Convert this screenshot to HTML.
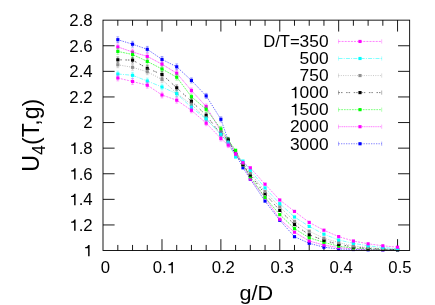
<!DOCTYPE html>
<html><head><meta charset="utf-8"><title>U4(T,g) vs g/D</title>
<style>
html,body{margin:0;padding:0;background:#fff;}
body{width:435px;height:305px;overflow:hidden;position:relative;}
svg text{font-family:"Liberation Sans",sans-serif;fill:#000;}
</style></head><body>
<svg width="435" height="305" viewBox="0 0 435 305" style="position:absolute;left:0;top:0;will-change:transform">
<rect width="435" height="305" fill="#fff"/>
<path d="M117.82,250.55v-5.6M117.82,20.15v5.6M132.54,250.55v-5.6M132.54,20.15v5.6M147.27,250.55v-5.6M147.27,20.15v5.6M161.99,250.55v-11.4M161.99,20.15v11.4M176.71,250.55v-5.6M176.71,20.15v5.6M191.44,250.55v-5.6M191.44,20.15v5.6M206.16,250.55v-5.6M206.16,20.15v5.6M220.88,250.55v-11.4M220.88,20.15v11.4M235.60,250.55v-5.6M235.60,20.15v5.6M250.32,250.55v-5.6M250.32,20.15v5.6M265.05,250.55v-5.6M265.05,20.15v5.6M279.77,250.55v-11.4M279.77,20.15v11.4M294.49,250.55v-5.6M294.49,20.15v5.6M309.22,250.55v-5.6M309.22,20.15v5.6M323.94,250.55v-5.6M323.94,20.15v5.6M338.66,250.55v-11.4M338.66,20.15v11.4M353.38,250.55v-5.6M353.38,20.15v5.6M368.11,250.55v-5.6M368.11,20.15v5.6M382.83,250.55v-5.6M382.83,20.15v5.6M397.55,250.55v-11.4M397.55,20.15v11.4M103.0,224.95h11.6M409.65,224.95h-11.6M103.0,199.35h11.6M409.65,199.35h-11.6M103.0,173.75h11.6M409.65,173.75h-11.6M103.0,148.15h11.6M409.65,148.15h-11.6M103.0,122.55h11.6M409.65,122.55h-11.6M103.0,96.95h11.6M409.65,96.95h-11.6M103.0,71.35h11.6M409.65,71.35h-11.6M103.0,45.75h11.6M409.65,45.75h-11.6" stroke="#000" stroke-width="0.9" fill="none"/>
<path d="M117.8,39.7 L132.5,44.2 L147.3,49.3 L162.0,59.4 L176.7,66.8 L191.4,80.4 L206.2,95.9 L220.9,119.3 L228.2,140.3 L235.6,154.0 L243.0,167.8 L250.3,179.2 L265.0,201.1 L279.8,220.3 L294.5,236.7 L309.2,243.3 L323.9,247.2 L338.7,249.0 L353.4,249.5 L368.1,249.8 L382.8,249.9 L397.5,250.0" fill="none" stroke="#0000ff" stroke-width="0.6" stroke-dasharray="1.3,1.2"/>
<path d="M117.8,36.8V42.6M116.4,36.8h2.8M116.4,42.6h2.8" stroke="#0000ff" stroke-width="0.45" stroke-opacity="0.75" fill="none"/>
<path d="M132.5,41.3V47.1M131.1,41.3h2.8M131.1,47.1h2.8" stroke="#0000ff" stroke-width="0.45" stroke-opacity="0.75" fill="none"/>
<path d="M147.3,46.4V52.2M145.9,46.4h2.8M145.9,52.2h2.8" stroke="#0000ff" stroke-width="0.45" stroke-opacity="0.75" fill="none"/>
<path d="M162.0,56.5V62.3M160.6,56.5h2.8M160.6,62.3h2.8" stroke="#0000ff" stroke-width="0.45" stroke-opacity="0.75" fill="none"/>
<path d="M176.7,63.9V69.7M175.3,63.9h2.8M175.3,69.7h2.8" stroke="#0000ff" stroke-width="0.45" stroke-opacity="0.75" fill="none"/>
<path d="M191.4,77.9V82.9M190.0,77.9h2.8M190.0,82.9h2.8" stroke="#0000ff" stroke-width="0.45" stroke-opacity="0.75" fill="none"/>
<path d="M206.2,93.4V98.4M204.8,93.4h2.8M204.8,98.4h2.8" stroke="#0000ff" stroke-width="0.45" stroke-opacity="0.75" fill="none"/>
<path d="M220.9,116.8V121.8M219.5,116.8h2.8M219.5,121.8h2.8" stroke="#0000ff" stroke-width="0.45" stroke-opacity="0.75" fill="none"/>
<path d="M228.2,137.8V142.8M226.8,137.8h2.8M226.8,142.8h2.8" stroke="#0000ff" stroke-width="0.45" stroke-opacity="0.75" fill="none"/>
<rect x="116.25" y="38.12" width="3.15" height="3.15" fill="#0000ff"/>
<rect x="130.97" y="42.62" width="3.15" height="3.15" fill="#0000ff"/>
<rect x="145.69" y="47.72" width="3.15" height="3.15" fill="#0000ff"/>
<rect x="160.42" y="57.82" width="3.15" height="3.15" fill="#0000ff"/>
<rect x="175.14" y="65.22" width="3.15" height="3.15" fill="#0000ff"/>
<rect x="189.86" y="78.83" width="3.15" height="3.15" fill="#0000ff"/>
<rect x="204.58" y="94.33" width="3.15" height="3.15" fill="#0000ff"/>
<rect x="219.31" y="117.72" width="3.15" height="3.15" fill="#0000ff"/>
<rect x="226.67" y="138.73" width="3.15" height="3.15" fill="#0000ff"/>
<rect x="234.03" y="152.43" width="3.15" height="3.15" fill="#0000ff"/>
<rect x="241.39" y="166.23" width="3.15" height="3.15" fill="#0000ff"/>
<rect x="248.75" y="177.62" width="3.15" height="3.15" fill="#0000ff"/>
<rect x="263.47" y="199.53" width="3.15" height="3.15" fill="#0000ff"/>
<rect x="278.19" y="218.73" width="3.15" height="3.15" fill="#0000ff"/>
<rect x="292.92" y="235.12" width="3.15" height="3.15" fill="#0000ff"/>
<rect x="307.64" y="241.73" width="3.15" height="3.15" fill="#0000ff"/>
<rect x="322.36" y="245.62" width="3.15" height="3.15" fill="#0000ff"/>
<rect x="337.08" y="247.43" width="3.15" height="3.15" fill="#0000ff"/>
<rect x="351.81" y="247.93" width="3.15" height="3.15" fill="#0000ff"/>
<rect x="366.53" y="248.23" width="3.15" height="3.15" fill="#0000ff"/>
<rect x="381.25" y="248.33" width="3.15" height="3.15" fill="#0000ff"/>
<rect x="395.97" y="248.43" width="3.15" height="3.15" fill="#0000ff"/>
<path d="M117.8,46.9 L132.5,52.0 L147.3,56.4 L162.0,64.2 L176.7,73.2 L191.4,90.5 L206.2,106.5 L220.9,131.2 L228.2,141.0 L235.6,152.0 L243.0,164.5 L250.3,178.9 L265.0,197.6 L279.8,219.3 L294.5,232.2 L309.2,241.0 L323.9,245.1 L338.7,247.6 L353.4,248.8 L368.1,249.4 L382.8,249.7 L397.5,249.9" fill="none" stroke="#ff00ff" stroke-width="0.6" stroke-dasharray="1.2,0.6"/>
<path d="M117.8,44.0V49.8M116.4,44.0h2.8M116.4,49.8h2.8" stroke="#ff00ff" stroke-width="0.45" stroke-opacity="0.75" fill="none"/>
<path d="M132.5,49.1V54.9M131.1,49.1h2.8M131.1,54.9h2.8" stroke="#ff00ff" stroke-width="0.45" stroke-opacity="0.75" fill="none"/>
<path d="M147.3,53.5V59.3M145.9,53.5h2.8M145.9,59.3h2.8" stroke="#ff00ff" stroke-width="0.45" stroke-opacity="0.75" fill="none"/>
<path d="M162.0,61.3V67.1M160.6,61.3h2.8M160.6,67.1h2.8" stroke="#ff00ff" stroke-width="0.45" stroke-opacity="0.75" fill="none"/>
<path d="M176.7,70.3V76.1M175.3,70.3h2.8M175.3,76.1h2.8" stroke="#ff00ff" stroke-width="0.45" stroke-opacity="0.75" fill="none"/>
<path d="M191.4,88.0V93.0M190.0,88.0h2.8M190.0,93.0h2.8" stroke="#ff00ff" stroke-width="0.45" stroke-opacity="0.75" fill="none"/>
<path d="M206.2,104.0V109.0M204.8,104.0h2.8M204.8,109.0h2.8" stroke="#ff00ff" stroke-width="0.45" stroke-opacity="0.75" fill="none"/>
<path d="M220.9,128.7V133.7M219.5,128.7h2.8M219.5,133.7h2.8" stroke="#ff00ff" stroke-width="0.45" stroke-opacity="0.75" fill="none"/>
<path d="M228.2,138.5V143.5M226.8,138.5h2.8M226.8,143.5h2.8" stroke="#ff00ff" stroke-width="0.45" stroke-opacity="0.75" fill="none"/>
<rect x="116.25" y="45.32" width="3.15" height="3.15" fill="#ff00ff"/>
<rect x="130.97" y="50.42" width="3.15" height="3.15" fill="#ff00ff"/>
<rect x="145.69" y="54.82" width="3.15" height="3.15" fill="#ff00ff"/>
<rect x="160.42" y="62.62" width="3.15" height="3.15" fill="#ff00ff"/>
<rect x="175.14" y="71.62" width="3.15" height="3.15" fill="#ff00ff"/>
<rect x="189.86" y="88.92" width="3.15" height="3.15" fill="#ff00ff"/>
<rect x="204.58" y="104.92" width="3.15" height="3.15" fill="#ff00ff"/>
<rect x="219.31" y="129.62" width="3.15" height="3.15" fill="#ff00ff"/>
<rect x="226.67" y="139.43" width="3.15" height="3.15" fill="#ff00ff"/>
<rect x="234.03" y="150.43" width="3.15" height="3.15" fill="#ff00ff"/>
<rect x="241.39" y="162.93" width="3.15" height="3.15" fill="#ff00ff"/>
<rect x="248.75" y="177.33" width="3.15" height="3.15" fill="#ff00ff"/>
<rect x="263.47" y="196.03" width="3.15" height="3.15" fill="#ff00ff"/>
<rect x="278.19" y="217.73" width="3.15" height="3.15" fill="#ff00ff"/>
<rect x="292.92" y="230.62" width="3.15" height="3.15" fill="#ff00ff"/>
<rect x="307.64" y="239.43" width="3.15" height="3.15" fill="#ff00ff"/>
<rect x="322.36" y="243.53" width="3.15" height="3.15" fill="#ff00ff"/>
<rect x="337.08" y="246.03" width="3.15" height="3.15" fill="#ff00ff"/>
<rect x="351.81" y="247.23" width="3.15" height="3.15" fill="#ff00ff"/>
<rect x="366.53" y="247.83" width="3.15" height="3.15" fill="#ff00ff"/>
<rect x="381.25" y="248.12" width="3.15" height="3.15" fill="#ff00ff"/>
<rect x="395.97" y="248.33" width="3.15" height="3.15" fill="#ff00ff"/>
<path d="M117.8,51.4 L132.5,54.5 L147.3,61.4 L162.0,69.0 L176.7,77.2 L191.4,96.7 L206.2,109.3 L220.9,128.9 L228.2,139.8 L235.6,150.3 L243.0,164.8 L250.3,176.8 L265.0,197.4 L279.8,214.6 L294.5,228.6 L309.2,237.8 L323.9,242.3 L338.7,246.2 L353.4,248.1 L368.1,249.0 L382.8,249.5 L397.5,249.8" fill="none" stroke="#00ff00" stroke-width="0.6" stroke-dasharray="1.8,0.9"/>
<path d="M117.8,48.5V54.3M116.4,48.5h2.8M116.4,54.3h2.8" stroke="#00ff00" stroke-width="0.45" stroke-opacity="0.75" fill="none"/>
<path d="M132.5,51.6V57.4M131.1,51.6h2.8M131.1,57.4h2.8" stroke="#00ff00" stroke-width="0.45" stroke-opacity="0.75" fill="none"/>
<path d="M147.3,58.5V64.3M145.9,58.5h2.8M145.9,64.3h2.8" stroke="#00ff00" stroke-width="0.45" stroke-opacity="0.75" fill="none"/>
<path d="M162.0,66.1V71.9M160.6,66.1h2.8M160.6,71.9h2.8" stroke="#00ff00" stroke-width="0.45" stroke-opacity="0.75" fill="none"/>
<path d="M176.7,74.3V80.1M175.3,74.3h2.8M175.3,80.1h2.8" stroke="#00ff00" stroke-width="0.45" stroke-opacity="0.75" fill="none"/>
<path d="M191.4,94.2V99.2M190.0,94.2h2.8M190.0,99.2h2.8" stroke="#00ff00" stroke-width="0.45" stroke-opacity="0.75" fill="none"/>
<path d="M206.2,106.8V111.8M204.8,106.8h2.8M204.8,111.8h2.8" stroke="#00ff00" stroke-width="0.45" stroke-opacity="0.75" fill="none"/>
<path d="M220.9,126.4V131.4M219.5,126.4h2.8M219.5,131.4h2.8" stroke="#00ff00" stroke-width="0.45" stroke-opacity="0.75" fill="none"/>
<path d="M228.2,137.3V142.3M226.8,137.3h2.8M226.8,142.3h2.8" stroke="#00ff00" stroke-width="0.45" stroke-opacity="0.75" fill="none"/>
<rect x="116.25" y="49.82" width="3.15" height="3.15" fill="#00ff00"/>
<rect x="130.97" y="52.92" width="3.15" height="3.15" fill="#00ff00"/>
<rect x="145.69" y="59.82" width="3.15" height="3.15" fill="#00ff00"/>
<rect x="160.42" y="67.42" width="3.15" height="3.15" fill="#00ff00"/>
<rect x="175.14" y="75.62" width="3.15" height="3.15" fill="#00ff00"/>
<rect x="189.86" y="95.12" width="3.15" height="3.15" fill="#00ff00"/>
<rect x="204.58" y="107.72" width="3.15" height="3.15" fill="#00ff00"/>
<rect x="219.31" y="127.33" width="3.15" height="3.15" fill="#00ff00"/>
<rect x="226.67" y="138.23" width="3.15" height="3.15" fill="#00ff00"/>
<rect x="234.03" y="148.73" width="3.15" height="3.15" fill="#00ff00"/>
<rect x="241.39" y="163.23" width="3.15" height="3.15" fill="#00ff00"/>
<rect x="248.75" y="175.23" width="3.15" height="3.15" fill="#00ff00"/>
<rect x="263.47" y="195.83" width="3.15" height="3.15" fill="#00ff00"/>
<rect x="278.19" y="213.03" width="3.15" height="3.15" fill="#00ff00"/>
<rect x="292.92" y="227.03" width="3.15" height="3.15" fill="#00ff00"/>
<rect x="307.64" y="236.23" width="3.15" height="3.15" fill="#00ff00"/>
<rect x="322.36" y="240.73" width="3.15" height="3.15" fill="#00ff00"/>
<rect x="337.08" y="244.62" width="3.15" height="3.15" fill="#00ff00"/>
<rect x="351.81" y="246.53" width="3.15" height="3.15" fill="#00ff00"/>
<rect x="366.53" y="247.43" width="3.15" height="3.15" fill="#00ff00"/>
<rect x="381.25" y="247.93" width="3.15" height="3.15" fill="#00ff00"/>
<rect x="395.97" y="248.23" width="3.15" height="3.15" fill="#00ff00"/>
<path d="M117.8,59.8 L132.5,60.1 L147.3,68.3 L162.0,74.5 L176.7,87.8 L191.4,101.3 L206.2,115.2 L220.9,134.3 L228.2,140.0 L235.6,154.5 L243.0,164.6 L250.3,175.1 L265.0,193.8 L279.8,210.4 L294.5,224.6 L309.2,234.8 L323.9,240.3 L338.7,244.4 L353.4,247.0 L368.1,248.3 L382.8,249.1 L397.5,249.6" fill="none" stroke="#000000" stroke-width="0.6" stroke-dasharray="1.5,1,1.5,3.6"/>
<path d="M117.8,56.9V62.7M116.4,56.9h2.8M116.4,62.7h2.8" stroke="#000000" stroke-width="0.45" stroke-opacity="0.75" fill="none"/>
<path d="M132.5,57.2V63.0M131.1,57.2h2.8M131.1,63.0h2.8" stroke="#000000" stroke-width="0.45" stroke-opacity="0.75" fill="none"/>
<path d="M147.3,65.4V71.2M145.9,65.4h2.8M145.9,71.2h2.8" stroke="#000000" stroke-width="0.45" stroke-opacity="0.75" fill="none"/>
<path d="M162.0,71.6V77.4M160.6,71.6h2.8M160.6,77.4h2.8" stroke="#000000" stroke-width="0.45" stroke-opacity="0.75" fill="none"/>
<path d="M176.7,84.9V90.7M175.3,84.9h2.8M175.3,90.7h2.8" stroke="#000000" stroke-width="0.45" stroke-opacity="0.75" fill="none"/>
<path d="M191.4,98.8V103.8M190.0,98.8h2.8M190.0,103.8h2.8" stroke="#000000" stroke-width="0.45" stroke-opacity="0.75" fill="none"/>
<path d="M206.2,112.7V117.7M204.8,112.7h2.8M204.8,117.7h2.8" stroke="#000000" stroke-width="0.45" stroke-opacity="0.75" fill="none"/>
<path d="M220.9,131.8V136.8M219.5,131.8h2.8M219.5,136.8h2.8" stroke="#000000" stroke-width="0.45" stroke-opacity="0.75" fill="none"/>
<path d="M228.2,137.5V142.5M226.8,137.5h2.8M226.8,142.5h2.8" stroke="#000000" stroke-width="0.45" stroke-opacity="0.75" fill="none"/>
<rect x="116.25" y="58.22" width="3.15" height="3.15" fill="#000000"/>
<rect x="130.97" y="58.52" width="3.15" height="3.15" fill="#000000"/>
<rect x="145.69" y="66.72" width="3.15" height="3.15" fill="#000000"/>
<rect x="160.42" y="72.92" width="3.15" height="3.15" fill="#000000"/>
<rect x="175.14" y="86.22" width="3.15" height="3.15" fill="#000000"/>
<rect x="189.86" y="99.72" width="3.15" height="3.15" fill="#000000"/>
<rect x="204.58" y="113.62" width="3.15" height="3.15" fill="#000000"/>
<rect x="219.31" y="132.73" width="3.15" height="3.15" fill="#000000"/>
<rect x="226.67" y="138.43" width="3.15" height="3.15" fill="#000000"/>
<rect x="234.03" y="152.93" width="3.15" height="3.15" fill="#000000"/>
<rect x="241.39" y="163.03" width="3.15" height="3.15" fill="#000000"/>
<rect x="248.75" y="173.53" width="3.15" height="3.15" fill="#000000"/>
<rect x="263.47" y="192.23" width="3.15" height="3.15" fill="#000000"/>
<rect x="278.19" y="208.83" width="3.15" height="3.15" fill="#000000"/>
<rect x="292.92" y="223.03" width="3.15" height="3.15" fill="#000000"/>
<rect x="307.64" y="233.23" width="3.15" height="3.15" fill="#000000"/>
<rect x="322.36" y="238.73" width="3.15" height="3.15" fill="#000000"/>
<rect x="337.08" y="242.83" width="3.15" height="3.15" fill="#000000"/>
<rect x="351.81" y="245.43" width="3.15" height="3.15" fill="#000000"/>
<rect x="366.53" y="246.73" width="3.15" height="3.15" fill="#000000"/>
<rect x="381.25" y="247.53" width="3.15" height="3.15" fill="#000000"/>
<rect x="395.97" y="248.03" width="3.15" height="3.15" fill="#000000"/>
<path d="M117.8,64.8 L132.5,67.3 L147.3,71.8 L162.0,79.5 L176.7,93.4 L191.4,104.5 L206.2,118.7 L220.9,134.4 L228.2,143.0 L235.6,155.5 L243.0,163.0 L250.3,173.0 L265.0,191.5 L279.8,206.9 L294.5,221.4 L309.2,231.2 L323.9,238.2 L338.7,242.6 L353.4,246.0 L368.1,247.6 L382.8,248.7 L397.5,249.4" fill="none" stroke="#909090" stroke-width="0.6" stroke-dasharray="1,1.3"/>
<path d="M117.8,61.9V67.7M116.4,61.9h2.8M116.4,67.7h2.8" stroke="#909090" stroke-width="0.45" stroke-opacity="0.75" fill="none"/>
<path d="M132.5,64.4V70.2M131.1,64.4h2.8M131.1,70.2h2.8" stroke="#909090" stroke-width="0.45" stroke-opacity="0.75" fill="none"/>
<path d="M147.3,68.9V74.7M145.9,68.9h2.8M145.9,74.7h2.8" stroke="#909090" stroke-width="0.45" stroke-opacity="0.75" fill="none"/>
<path d="M162.0,76.6V82.4M160.6,76.6h2.8M160.6,82.4h2.8" stroke="#909090" stroke-width="0.45" stroke-opacity="0.75" fill="none"/>
<path d="M176.7,90.5V96.3M175.3,90.5h2.8M175.3,96.3h2.8" stroke="#909090" stroke-width="0.45" stroke-opacity="0.75" fill="none"/>
<path d="M191.4,102.0V107.0M190.0,102.0h2.8M190.0,107.0h2.8" stroke="#909090" stroke-width="0.45" stroke-opacity="0.75" fill="none"/>
<path d="M206.2,116.2V121.2M204.8,116.2h2.8M204.8,121.2h2.8" stroke="#909090" stroke-width="0.45" stroke-opacity="0.75" fill="none"/>
<path d="M220.9,131.9V136.9M219.5,131.9h2.8M219.5,136.9h2.8" stroke="#909090" stroke-width="0.45" stroke-opacity="0.75" fill="none"/>
<path d="M228.2,140.5V145.5M226.8,140.5h2.8M226.8,145.5h2.8" stroke="#909090" stroke-width="0.45" stroke-opacity="0.75" fill="none"/>
<rect x="116.25" y="63.22" width="3.15" height="3.15" fill="#909090"/>
<rect x="130.97" y="65.72" width="3.15" height="3.15" fill="#909090"/>
<rect x="145.69" y="70.22" width="3.15" height="3.15" fill="#909090"/>
<rect x="160.42" y="77.92" width="3.15" height="3.15" fill="#909090"/>
<rect x="175.14" y="91.83" width="3.15" height="3.15" fill="#909090"/>
<rect x="189.86" y="102.92" width="3.15" height="3.15" fill="#909090"/>
<rect x="204.58" y="117.12" width="3.15" height="3.15" fill="#909090"/>
<rect x="219.31" y="132.83" width="3.15" height="3.15" fill="#909090"/>
<rect x="226.67" y="141.43" width="3.15" height="3.15" fill="#909090"/>
<rect x="234.03" y="153.93" width="3.15" height="3.15" fill="#909090"/>
<rect x="241.39" y="161.43" width="3.15" height="3.15" fill="#909090"/>
<rect x="248.75" y="171.43" width="3.15" height="3.15" fill="#909090"/>
<rect x="263.47" y="189.93" width="3.15" height="3.15" fill="#909090"/>
<rect x="278.19" y="205.33" width="3.15" height="3.15" fill="#909090"/>
<rect x="292.92" y="219.83" width="3.15" height="3.15" fill="#909090"/>
<rect x="307.64" y="229.62" width="3.15" height="3.15" fill="#909090"/>
<rect x="322.36" y="236.62" width="3.15" height="3.15" fill="#909090"/>
<rect x="337.08" y="241.03" width="3.15" height="3.15" fill="#909090"/>
<rect x="351.81" y="244.43" width="3.15" height="3.15" fill="#909090"/>
<rect x="366.53" y="246.03" width="3.15" height="3.15" fill="#909090"/>
<rect x="381.25" y="247.12" width="3.15" height="3.15" fill="#909090"/>
<rect x="395.97" y="247.83" width="3.15" height="3.15" fill="#909090"/>
<path d="M117.8,74.0 L132.5,75.3 L147.3,81.0 L162.0,87.0 L176.7,93.7 L191.4,107.4 L206.2,119.0 L220.9,134.4 L228.2,142.8 L235.6,157.0 L243.0,161.1 L250.3,170.3 L265.0,187.9 L279.8,203.7 L294.5,217.0 L309.2,226.4 L323.9,234.2 L338.7,240.0 L353.4,243.4 L368.1,245.8 L382.8,247.5 L397.5,248.8" fill="none" stroke="#00ffff" stroke-width="0.5" stroke-dasharray="4,1.2,1,1.2"/>
<path d="M117.8,71.1V76.9M116.4,71.1h2.8M116.4,76.9h2.8" stroke="#00ffff" stroke-width="0.45" stroke-opacity="0.75" fill="none"/>
<path d="M132.5,72.4V78.2M131.1,72.4h2.8M131.1,78.2h2.8" stroke="#00ffff" stroke-width="0.45" stroke-opacity="0.75" fill="none"/>
<path d="M147.3,78.1V83.9M145.9,78.1h2.8M145.9,83.9h2.8" stroke="#00ffff" stroke-width="0.45" stroke-opacity="0.75" fill="none"/>
<path d="M162.0,84.1V89.9M160.6,84.1h2.8M160.6,89.9h2.8" stroke="#00ffff" stroke-width="0.45" stroke-opacity="0.75" fill="none"/>
<path d="M176.7,90.8V96.6M175.3,90.8h2.8M175.3,96.6h2.8" stroke="#00ffff" stroke-width="0.45" stroke-opacity="0.75" fill="none"/>
<path d="M191.4,104.9V109.9M190.0,104.9h2.8M190.0,109.9h2.8" stroke="#00ffff" stroke-width="0.45" stroke-opacity="0.75" fill="none"/>
<path d="M206.2,116.5V121.5M204.8,116.5h2.8M204.8,121.5h2.8" stroke="#00ffff" stroke-width="0.45" stroke-opacity="0.75" fill="none"/>
<path d="M220.9,131.9V136.9M219.5,131.9h2.8M219.5,136.9h2.8" stroke="#00ffff" stroke-width="0.45" stroke-opacity="0.75" fill="none"/>
<path d="M228.2,140.3V145.3M226.8,140.3h2.8M226.8,145.3h2.8" stroke="#00ffff" stroke-width="0.45" stroke-opacity="0.75" fill="none"/>
<rect x="116.25" y="72.42" width="3.15" height="3.15" fill="#00ffff"/>
<rect x="130.97" y="73.72" width="3.15" height="3.15" fill="#00ffff"/>
<rect x="145.69" y="79.42" width="3.15" height="3.15" fill="#00ffff"/>
<rect x="160.42" y="85.42" width="3.15" height="3.15" fill="#00ffff"/>
<rect x="175.14" y="92.12" width="3.15" height="3.15" fill="#00ffff"/>
<rect x="189.86" y="105.83" width="3.15" height="3.15" fill="#00ffff"/>
<rect x="204.58" y="117.42" width="3.15" height="3.15" fill="#00ffff"/>
<rect x="219.31" y="132.83" width="3.15" height="3.15" fill="#00ffff"/>
<rect x="226.67" y="141.23" width="3.15" height="3.15" fill="#00ffff"/>
<rect x="234.03" y="155.43" width="3.15" height="3.15" fill="#00ffff"/>
<rect x="241.39" y="159.53" width="3.15" height="3.15" fill="#00ffff"/>
<rect x="248.75" y="168.73" width="3.15" height="3.15" fill="#00ffff"/>
<rect x="263.47" y="186.33" width="3.15" height="3.15" fill="#00ffff"/>
<rect x="278.19" y="202.12" width="3.15" height="3.15" fill="#00ffff"/>
<rect x="292.92" y="215.43" width="3.15" height="3.15" fill="#00ffff"/>
<rect x="307.64" y="224.83" width="3.15" height="3.15" fill="#00ffff"/>
<rect x="322.36" y="232.62" width="3.15" height="3.15" fill="#00ffff"/>
<rect x="337.08" y="238.43" width="3.15" height="3.15" fill="#00ffff"/>
<rect x="351.81" y="241.83" width="3.15" height="3.15" fill="#00ffff"/>
<rect x="366.53" y="244.23" width="3.15" height="3.15" fill="#00ffff"/>
<rect x="381.25" y="245.93" width="3.15" height="3.15" fill="#00ffff"/>
<rect x="395.97" y="247.23" width="3.15" height="3.15" fill="#00ffff"/>
<path d="M117.8,78.0 L132.5,81.5 L147.3,85.2 L162.0,95.0 L176.7,100.2 L191.4,110.3 L206.2,123.2 L220.9,138.5 L228.2,145.1 L235.6,154.2 L243.0,162.7 L250.3,167.8 L265.0,184.2 L279.8,200.0 L294.5,211.4 L309.2,222.4 L323.9,230.2 L338.7,236.6 L353.4,241.0 L368.1,243.8 L382.8,245.8 L397.5,247.2" fill="none" stroke="#ff00ff" stroke-width="0.5" stroke-dasharray="2,1.1"/>
<path d="M117.8,75.1V80.9M116.4,75.1h2.8M116.4,80.9h2.8" stroke="#ff00ff" stroke-width="0.45" stroke-opacity="0.75" fill="none"/>
<path d="M132.5,78.6V84.4M131.1,78.6h2.8M131.1,84.4h2.8" stroke="#ff00ff" stroke-width="0.45" stroke-opacity="0.75" fill="none"/>
<path d="M147.3,82.3V88.1M145.9,82.3h2.8M145.9,88.1h2.8" stroke="#ff00ff" stroke-width="0.45" stroke-opacity="0.75" fill="none"/>
<path d="M162.0,92.1V97.9M160.6,92.1h2.8M160.6,97.9h2.8" stroke="#ff00ff" stroke-width="0.45" stroke-opacity="0.75" fill="none"/>
<path d="M176.7,97.3V103.1M175.3,97.3h2.8M175.3,103.1h2.8" stroke="#ff00ff" stroke-width="0.45" stroke-opacity="0.75" fill="none"/>
<path d="M191.4,107.8V112.8M190.0,107.8h2.8M190.0,112.8h2.8" stroke="#ff00ff" stroke-width="0.45" stroke-opacity="0.75" fill="none"/>
<path d="M206.2,120.7V125.7M204.8,120.7h2.8M204.8,125.7h2.8" stroke="#ff00ff" stroke-width="0.45" stroke-opacity="0.75" fill="none"/>
<path d="M220.9,136.0V141.0M219.5,136.0h2.8M219.5,141.0h2.8" stroke="#ff00ff" stroke-width="0.45" stroke-opacity="0.75" fill="none"/>
<path d="M228.2,142.6V147.6M226.8,142.6h2.8M226.8,147.6h2.8" stroke="#ff00ff" stroke-width="0.45" stroke-opacity="0.75" fill="none"/>
<rect x="116.25" y="76.42" width="3.15" height="3.15" fill="#ff00ff"/>
<rect x="130.97" y="79.92" width="3.15" height="3.15" fill="#ff00ff"/>
<rect x="145.69" y="83.62" width="3.15" height="3.15" fill="#ff00ff"/>
<rect x="160.42" y="93.42" width="3.15" height="3.15" fill="#ff00ff"/>
<rect x="175.14" y="98.62" width="3.15" height="3.15" fill="#ff00ff"/>
<rect x="189.86" y="108.72" width="3.15" height="3.15" fill="#ff00ff"/>
<rect x="204.58" y="121.62" width="3.15" height="3.15" fill="#ff00ff"/>
<rect x="219.31" y="136.93" width="3.15" height="3.15" fill="#ff00ff"/>
<rect x="226.67" y="143.53" width="3.15" height="3.15" fill="#ff00ff"/>
<rect x="234.03" y="152.62" width="3.15" height="3.15" fill="#ff00ff"/>
<rect x="241.39" y="161.12" width="3.15" height="3.15" fill="#ff00ff"/>
<rect x="248.75" y="166.23" width="3.15" height="3.15" fill="#ff00ff"/>
<rect x="263.47" y="182.62" width="3.15" height="3.15" fill="#ff00ff"/>
<rect x="278.19" y="198.43" width="3.15" height="3.15" fill="#ff00ff"/>
<rect x="292.92" y="209.83" width="3.15" height="3.15" fill="#ff00ff"/>
<rect x="307.64" y="220.83" width="3.15" height="3.15" fill="#ff00ff"/>
<rect x="322.36" y="228.62" width="3.15" height="3.15" fill="#ff00ff"/>
<rect x="337.08" y="235.03" width="3.15" height="3.15" fill="#ff00ff"/>
<rect x="351.81" y="239.43" width="3.15" height="3.15" fill="#ff00ff"/>
<rect x="366.53" y="242.23" width="3.15" height="3.15" fill="#ff00ff"/>
<rect x="381.25" y="244.23" width="3.15" height="3.15" fill="#ff00ff"/>
<rect x="395.97" y="245.62" width="3.15" height="3.15" fill="#ff00ff"/>
<text transform="translate(299.7,47.2) scale(1.015,1)" text-anchor="end" font-size="16.4">D/T=</text>
<g transform="translate(328.60,47.20) scale(1.06,1)" font-size="16.4"><text x="-27.36" y="0">350</text></g>
<path d="M338.5,41.45H381.7" stroke="#ff00ff" stroke-width="0.5" stroke-dasharray="2,1.1" fill="none"/>
<path d="M338.5,39.35v4.2M381.7,39.35v4.2" stroke="#ff00ff" stroke-width="0.5" stroke-opacity="0.6" fill="none"/>
<rect x="358.43" y="39.88" width="3.15" height="3.15" fill="#ff00ff"/>
<g transform="translate(328.60,64.25) scale(1.06,1)" font-size="16.4"><text x="-27.36" y="0">500</text></g>
<path d="M338.5,58.50H381.7" stroke="#00ffff" stroke-width="0.5" stroke-dasharray="4,1.2,1,1.2" fill="none"/>
<path d="M338.5,56.40v4.2M381.7,56.40v4.2" stroke="#00ffff" stroke-width="0.5" stroke-opacity="0.6" fill="none"/>
<rect x="358.43" y="56.92" width="3.15" height="3.15" fill="#00ffff"/>
<g transform="translate(328.60,81.30) scale(1.06,1)" font-size="16.4"><text x="-27.36" y="0">750</text></g>
<path d="M338.5,75.55H381.7" stroke="#909090" stroke-width="0.5" stroke-dasharray="1,1.3" fill="none"/>
<path d="M338.5,73.45v4.2M381.7,73.45v4.2" stroke="#909090" stroke-width="0.5" stroke-opacity="0.6" fill="none"/>
<rect x="358.43" y="73.98" width="3.15" height="3.15" fill="#909090"/>
<g transform="translate(328.60,98.35) scale(1.06,1)" font-size="16.4"><path transform="translate(-36.47,0) scale(0.01640,-0.01640)" d="M371,0H284V505H102V568C190,572 262,612 296,709H371Z"/><text x="-27.36" y="0">000</text></g>
<path d="M338.5,92.60H381.7" stroke="#000000" stroke-width="0.5" stroke-dasharray="1.5,1,1.5,3.6" fill="none"/>
<path d="M338.5,90.50v4.2M381.7,90.50v4.2" stroke="#000000" stroke-width="0.5" stroke-opacity="0.6" fill="none"/>
<rect x="358.43" y="91.03" width="3.15" height="3.15" fill="#000000"/>
<g transform="translate(328.60,115.40) scale(1.06,1)" font-size="16.4"><path transform="translate(-36.47,0) scale(0.01640,-0.01640)" d="M371,0H284V505H102V568C190,572 262,612 296,709H371Z"/><text x="-27.36" y="0">500</text></g>
<path d="M338.5,109.65H381.7" stroke="#00ff00" stroke-width="0.5" stroke-dasharray="1.8,0.9" fill="none"/>
<path d="M338.5,107.55v4.2M381.7,107.55v4.2" stroke="#00ff00" stroke-width="0.5" stroke-opacity="0.6" fill="none"/>
<rect x="358.43" y="108.08" width="3.15" height="3.15" fill="#00ff00"/>
<g transform="translate(328.60,132.45) scale(1.06,1)" font-size="16.4"><text x="-36.47" y="0">2000</text></g>
<path d="M338.5,126.70H381.7" stroke="#ff00ff" stroke-width="0.5" stroke-dasharray="1.2,0.6" fill="none"/>
<path d="M338.5,124.60v4.2M381.7,124.60v4.2" stroke="#ff00ff" stroke-width="0.5" stroke-opacity="0.6" fill="none"/>
<rect x="358.43" y="125.12" width="3.15" height="3.15" fill="#ff00ff"/>
<g transform="translate(328.60,149.50) scale(1.06,1)" font-size="16.4"><text x="-36.47" y="0">3000</text></g>
<path d="M338.5,143.75H381.7" stroke="#0000ff" stroke-width="0.5" stroke-dasharray="1.3,1.2" fill="none"/>
<path d="M338.5,141.65v4.2M381.7,141.65v4.2" stroke="#0000ff" stroke-width="0.5" stroke-opacity="0.6" fill="none"/>
<rect x="358.43" y="142.18" width="3.15" height="3.15" fill="#0000ff"/>
<rect x="103.0" y="20.15" width="306.65" height="230.4" fill="none" stroke="#000" stroke-width="0.9"/>
<g transform="translate(105.50,273.30) scale(1.045,1)" font-size="16"><text x="-4.45" y="0">0</text></g>
<g transform="translate(164.39,273.30) scale(1.045,1)" font-size="16"><text x="-11.12" y="0">0.</text><path transform="translate(2.22,0) scale(0.01600,-0.01600)" d="M371,0H284V505H102V568C190,572 262,612 296,709H371Z"/></g>
<g transform="translate(223.28,273.30) scale(1.045,1)" font-size="16"><text x="-11.12" y="0">0.2</text></g>
<g transform="translate(282.17,273.30) scale(1.045,1)" font-size="16"><text x="-11.12" y="0">0.3</text></g>
<g transform="translate(341.06,273.30) scale(1.045,1)" font-size="16"><text x="-11.12" y="0">0.4</text></g>
<g transform="translate(399.95,273.30) scale(1.045,1)" font-size="16"><text x="-11.12" y="0">0.5</text></g>
<g transform="translate(92.70,256.35) scale(1.05,1)" font-size="16"><path transform="translate(-8.90,0) scale(0.01600,-0.01600)" d="M371,0H284V505H102V568C190,572 262,612 296,709H371Z"/></g>
<g transform="translate(92.70,230.75) scale(1.05,1)" font-size="16"><path transform="translate(-22.24,0) scale(0.01600,-0.01600)" d="M371,0H284V505H102V568C190,572 262,612 296,709H371Z"/><text x="-13.34" y="0">.2</text></g>
<g transform="translate(92.70,205.15) scale(1.05,1)" font-size="16"><path transform="translate(-22.24,0) scale(0.01600,-0.01600)" d="M371,0H284V505H102V568C190,572 262,612 296,709H371Z"/><text x="-13.34" y="0">.4</text></g>
<g transform="translate(92.70,179.55) scale(1.05,1)" font-size="16"><path transform="translate(-22.24,0) scale(0.01600,-0.01600)" d="M371,0H284V505H102V568C190,572 262,612 296,709H371Z"/><text x="-13.34" y="0">.6</text></g>
<g transform="translate(92.70,153.95) scale(1.05,1)" font-size="16"><path transform="translate(-22.24,0) scale(0.01600,-0.01600)" d="M371,0H284V505H102V568C190,572 262,612 296,709H371Z"/><text x="-13.34" y="0">.8</text></g>
<g transform="translate(92.70,128.35) scale(1.05,1)" font-size="16"><text x="-8.90" y="0">2</text></g>
<g transform="translate(92.70,102.75) scale(1.05,1)" font-size="16"><text x="-22.24" y="0">2.2</text></g>
<g transform="translate(92.70,77.15) scale(1.05,1)" font-size="16"><text x="-22.24" y="0">2.4</text></g>
<g transform="translate(92.70,51.55) scale(1.05,1)" font-size="16"><text x="-22.24" y="0">2.6</text></g>
<g transform="translate(92.70,25.95) scale(1.05,1)" font-size="16"><text x="-22.24" y="0">2.8</text></g>
<text transform="translate(256.4,300) scale(1.04,1)" text-anchor="middle" font-size="20.8">g/D</text>
<text transform="translate(39.1,135.2) rotate(-90) scale(1.0,1)" text-anchor="middle" font-size="23.2">U<tspan font-size="17.8" dy="6.3">4</tspan><tspan dy="-6.3">(T,g)</tspan></text>
</svg>
</body></html>
